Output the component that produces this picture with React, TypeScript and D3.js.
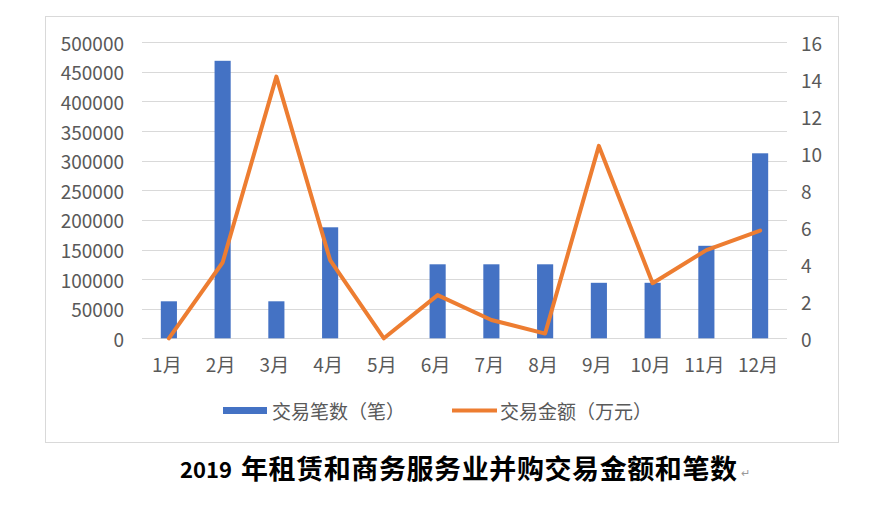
import React from "react";
import * as d3 from "d3";

const months = ["1月", "2月", "3月", "4月", "5月", "6月", "7月", "8月", "9月", "10月", "11月", "12月"];
// 交易笔数（笔） — bars, right axis
const counts = [2, 15, 2, 6, 0, 4, 4, 4, 3, 3, 5, 10];
// 交易金额（万元） — line, left axis
const amounts = [0, 128000, 442000, 132000, 0, 73000, 31000, 8000, 325000, 93000, 149000, 182000];
const leftTicks = [0, 50000, 100000, 150000, 200000, 250000, 300000, 350000, 400000, 450000, 500000];
const rightTicks = [0, 2, 4, 6, 8, 10, 12, 14, 16];
const legendLabels = ["交易笔数（笔）", "交易金额（万元）"];
const titleYear = "2019";
const titleText = "年租赁和商务服务业并购交易金额和笔数";

const W = 885;
const H = 508;
const plot = { left: 142, right: 787, top: 42.3, bottom: 338.3 };
const BLUE = "#4472C4";
const ORANGE = "#ED7D31";
const GRID = "#d9d9d9";
const LABEL = "#595959";
const FONT = "'Noto Sans CJK SC', 'Noto Sans', sans-serif";

export default function App() {
  const x = d3.scaleBand<string>().domain(months).range([plot.left, plot.right]).paddingInner(0).paddingOuter(0);
  const yL = d3.scaleLinear().domain([0, 500000]).range([plot.bottom, plot.top]);
  const yR = d3.scaleLinear().domain([0, 16]).range([plot.bottom, plot.top]);
  const barW = x.bandwidth() * 0.3;
  const cx = (m: string) => (x(m) as number) + x.bandwidth() / 2;

  const line = d3
    .line<number>()
    .x((_, i) => cx(months[i]))
    .y((d) => yL(d));

  return (
    <div style={{ position: "absolute", left: 0, top: 0 }}>
      <svg width={W} height={H} style={{ display: "block", background: "#fff" }} fontFamily={FONT}>
        <rect x={45.5} y={16.5} width={793} height={426} fill="#fff" stroke={GRID} strokeWidth={1} />
        {leftTicks.map((t) => (
          <line key={"g" + t} x1={plot.left} x2={plot.right} y1={Math.round(yL(t)) + 0.5} y2={Math.round(yL(t)) + 0.5} stroke={GRID} strokeWidth={1} />
        ))}
        {leftTicks.map((t) => (
          <text key={"l" + t} x={124} y={yL(t)} textAnchor="end" dominantBaseline="central" fontSize={19} fill={LABEL}>
            {t}
          </text>
        ))}
        {rightTicks.map((t) => (
          <text key={"r" + t} x={801} y={yR(t)} textAnchor="start" dominantBaseline="central" fontSize={19} fill={LABEL}>
            {t}
          </text>
        ))}
        {months.map((m, i) => (
          <rect key={"b" + m} x={cx(m) - barW / 2} y={yR(counts[i])} width={barW} height={plot.bottom - yR(counts[i])} fill={BLUE} />
        ))}
        <path d={line(amounts) || ""} fill="none" stroke={ORANGE} strokeWidth={4} strokeLinejoin="round" strokeLinecap="round" />
        {months.map((m) => (
          <text key={"m" + m} x={cx(m) - 2} y={363} textAnchor="middle" dominantBaseline="central" fontSize={19} fill={LABEL}>
            {m}
          </text>
        ))}
        <rect x={223} y={407} width={44} height={7} fill={BLUE} />
        <text x={272} y={410.5} dominantBaseline="central" fontSize={19} fill={LABEL}>
          {legendLabels[0]}
        </text>
        <line x1={452} x2={497} y1={410.5} y2={410.5} stroke={ORANGE} strokeWidth={4} />
        <text x={500} y={410.5} dominantBaseline="central" fontSize={19} fill={LABEL}>
          {legendLabels[1]}
        </text>
        <text x={180} y={468} dominantBaseline="central" fontSize={22} fontWeight="bold" fill="#000">
          {titleYear}
        </text>
        <text x={241} y={467} dominantBaseline="central" fontSize={27} fontWeight="bold" fill="#000" textLength={496} lengthAdjust="spacing">
          {titleText}
        </text>
        <text x={741} y={472} dominantBaseline="central" fontSize={11} fill="#999">
          ↵
        </text>
      </svg>
    </div>
  );
}
